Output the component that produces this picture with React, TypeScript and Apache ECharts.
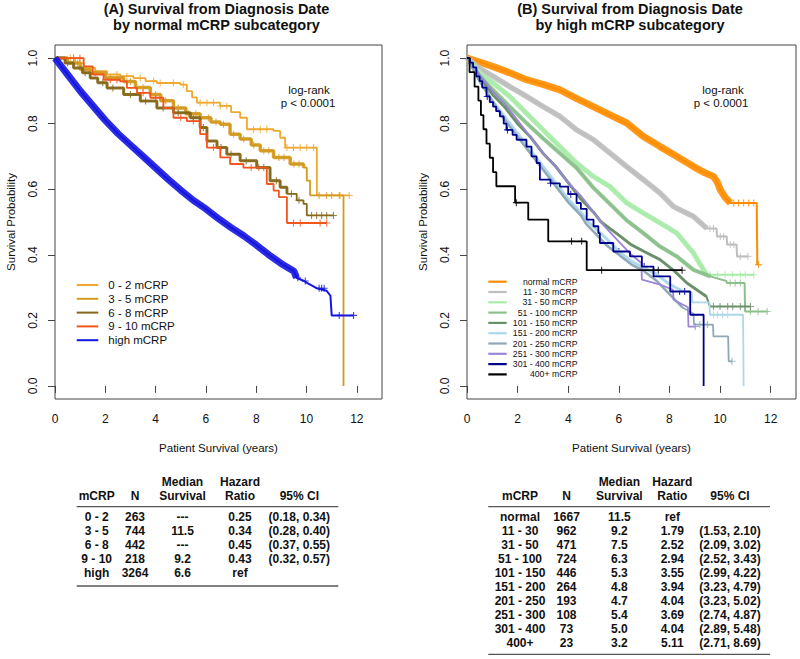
import React, { useEffect, useRef } from "react";
import * as echarts from "echarts";

type Pt = [number, number];
const FONT = "'Liberation Sans', Arial, Helvetica, sans-serif";

// ---------------- Panel A : normal mCRP subcategories ----------------
const aNames = ["0 - 2 mCRP", "3 - 5 mCRP", "6 - 8 mCRP", "9 - 10 mCRP", "high mCRP"];
const aColors = ["#F0A830", "#D39A1F", "#86691C", "#F2561D", "#1515E0"];

const km02: Pt[] = [[0, 1], [0.8, 0.985], [1.14, 0.97], [1.6, 0.96], [2.07, 0.95], [2.6, 0.945], [3.12, 0.939], [3.6, 0.93], [4.05, 0.924], [4.98, 0.919], [5.24, 0.899], [5.45, 0.88], [5.64, 0.864], [6.57, 0.854], [7.0, 0.835], [7.36, 0.818], [7.63, 0.783], [8.69, 0.778], [8.95, 0.757], [9.15, 0.727], [10.41, 0.581], [11.7, 0.581]];
const km35: Pt[] = [[0, 1], [0.5, 0.985], [1.0, 0.965], [1.4, 0.955], [2.0, 0.94], [2.73, 0.929], [3.2, 0.91], [3.79, 0.889], [4.2, 0.87], [4.71, 0.848], [5.2, 0.83], [5.77, 0.818], [6.2, 0.805], [6.57, 0.798], [6.96, 0.768], [7.36, 0.753], [7.8, 0.735], [8.16, 0.717], [8.69, 0.697], [9.35, 0.677], [9.88, 0.666], [10.01, 0.626], [10.14, 0.581], [11.47, 0]];
const km68: Pt[] = [[0, 1], [0.4, 0.985], [0.74, 0.97], [1.1, 0.955], [1.4, 0.939], [1.7, 0.925], [2.07, 0.909], [2.73, 0.889], [3.39, 0.869], [4.05, 0.848], [4.71, 0.833], [5.38, 0.818], [5.77, 0.788], [6.04, 0.747], [6.44, 0.727], [6.83, 0.707], [7.36, 0.687], [8.02, 0.666], [8.55, 0.626], [8.95, 0.606], [9.22, 0.586], [9.61, 0.566], [9.88, 0.555], [10.01, 0.52], [11.07, 0.52]];
const km910: Pt[] = [[0, 1], [1.14, 0.975], [1.5, 0.95], [1.93, 0.934], [2.59, 0.929], [2.86, 0.909], [3.26, 0.894], [3.79, 0.879], [4.31, 0.848], [4.71, 0.818], [5.24, 0.808], [5.77, 0.768], [6.04, 0.727], [6.57, 0.697], [6.96, 0.677], [7.49, 0.666], [8.42, 0.616], [8.69, 0.596], [8.9, 0.576], [9.22, 0.497], [10.8, 0.497]];
const kmHigh: Pt[] = [[0, 1], [0.25, 0.975], [0.5, 0.95], [1, 0.9], [1.5, 0.855], [2, 0.81], [2.5, 0.77], [3, 0.735], [3.5, 0.7], [4, 0.665], [4.5, 0.63], [5, 0.597], [5.5, 0.566], [6, 0.54], [6.5, 0.51], [7, 0.483], [7.5, 0.458], [8, 0.43], [8.5, 0.4], [9, 0.373], [9.5, 0.35], [9.6, 0.33], [9.9, 0.32], [10.0, 0.315], [10.4, 0.298], [10.8, 0.29], [10.95, 0.275], [11.0, 0.215], [11.87, 0.215]];

const cens02 = [0.61, 0.99, 2.46, 2.86, 3.39, 3.92, 4.18, 4.71, 5.1, 5.77, 6.04, 6.3, 6.57, 6.83, 7.89, 8.16, 8.42, 9.22, 9.48, 9.75, 10.01, 10.28, 11.33, 11.7];
const cens35 = [0.9, 1.6, 2.2, 2.5, 3.0, 3.5, 4.0, 4.4, 4.9, 5.3, 5.6, 6.1, 6.4, 6.7, 7.1, 7.5, 7.9, 8.3, 8.5, 8.9, 9.1, 9.5, 9.7, 10.5, 10.8, 11.0, 11.3];
const cens68 = [0.5, 1.2, 1.9, 2.3, 3.0, 3.6, 4.3, 4.9, 5.5, 5.9, 6.6, 7.0, 7.6, 8.3, 8.8, 9.4, 9.7, 10.2, 10.4, 10.6, 10.8, 11.07];
const cens910 = [0.74, 0.99, 2.2, 2.46, 3.5, 4.0, 5.0, 5.5, 6.3, 7.8, 8.1, 9.48, 9.75, 10.54, 10.8];
const censHigh = [9.65, 9.95, 10.5, 10.6, 10.7, 11.3, 11.87];

// ---------------- Panel B : high mCRP subcategories ----------------
const bNames = ["normal mCRP", "11 - 30 mCRP", "31 - 50 mCRP", "51 - 100 mCRP", "101 - 150 mCRP", "151 - 200 mCRP", "201 - 250 mCRP", "251 - 300 mCRP", "301 - 400 mCRP", "400+ mCRP"];
const bColors = ["#FF8C00", "#BEBEBE", "#A9EBA9", "#8CC08C", "#6A906A", "#ADD8EA", "#8FA8B6", "#9A85D8", "#00008F", "#000000"];

const kmNormal: Pt[] = [[0, 1], [0.5, 0.988], [1.03, 0.974], [1.7, 0.955], [2.35, 0.934], [3.0, 0.92], [3.67, 0.903], [4.3, 0.878], [4.99, 0.852], [5.65, 0.827], [6.31, 0.802], [6.97, 0.761], [7.63, 0.73], [8.29, 0.7], [8.95, 0.669], [9.4, 0.65], [9.74, 0.639], [9.9, 0.62], [10.01, 0.598], [10.2, 0.575], [10.41, 0.558], [11.45, 0.558], [11.47, 0.37], [11.52, 0.37]];
const km1130: Pt[] = [[0, 1], [0.5, 0.969], [1.03, 0.944], [1.69, 0.913], [2.35, 0.883], [3.01, 0.852], [3.67, 0.822], [4.33, 0.781], [4.99, 0.751], [5.65, 0.71], [6.31, 0.669], [6.97, 0.629], [7.63, 0.588], [8.16, 0.547], [8.95, 0.517], [9.48, 0.48], [9.86, 0.48], [9.88, 0.456], [10.26, 0.456], [10.28, 0.431], [10.65, 0.431], [10.67, 0.395], [11.1, 0.395]];
const km3150: Pt[] = [[0, 1], [0.5, 0.954], [1.03, 0.924], [1.69, 0.883], [2.35, 0.832], [3.01, 0.781], [3.67, 0.73], [4.33, 0.68], [4.99, 0.639], [5.65, 0.608], [6.31, 0.558], [6.97, 0.527], [7.63, 0.497], [8.29, 0.466], [8.95, 0.405], [9.22, 0.37], [9.48, 0.339], [11.33, 0.339]];
const km51100: Pt[] = [[0, 1], [0.5, 0.944], [1.03, 0.903], [1.69, 0.852], [2.35, 0.802], [3.01, 0.755], [3.67, 0.71], [4.33, 0.665], [4.99, 0.605], [5.65, 0.555], [6.31, 0.505], [6.97, 0.466], [7.63, 0.425], [8.29, 0.395], [8.95, 0.354], [9.61, 0.334], [10.25, 0.32], [10.27, 0.314], [10.97, 0.314], [10.99, 0.227], [11.86, 0.227]];
const km101150: Pt[] = [[0, 1], [0.5, 0.94], [1, 0.89], [1.5, 0.85], [2, 0.8], [2.5, 0.76], [3, 0.71], [3.5, 0.67], [4, 0.62], [4.5, 0.57], [5, 0.53], [5.3, 0.5], [6, 0.46], [6.5, 0.43], [7, 0.41], [7.63, 0.385], [8.2, 0.35], [8.69, 0.314], [9.46, 0.273], [9.6, 0.242], [11.2, 0.242]];
const km151200: Pt[] = [[0, 1], [0.5, 0.93], [1, 0.87], [1.5, 0.82], [2, 0.77], [2.5, 0.72], [3, 0.67], [3.5, 0.62], [4, 0.57], [4.5, 0.53], [4.8, 0.5], [5.5, 0.45], [6, 0.41], [6.5, 0.38], [7, 0.36], [7.5, 0.34], [8, 0.31], [8.5, 0.29], [8.88, 0.285], [8.9, 0.255], [9.58, 0.255], [9.6, 0.217], [10.91, 0.217], [10.93, 0]];
const km201250: Pt[] = [[0, 1], [0.5, 0.93], [1, 0.87], [1.5, 0.81], [2, 0.76], [2.5, 0.71], [3, 0.66], [3.5, 0.61], [4, 0.56], [4.5, 0.52], [4.7, 0.495], [5.5, 0.43], [6, 0.4], [6.5, 0.37], [7, 0.35], [7.5, 0.32], [8, 0.28], [8.5, 0.24], [8.95, 0.22], [8.97, 0.187], [9.72, 0.187], [9.74, 0.151], [10.32, 0.151], [10.34, 0.075], [10.47, 0.075]];
const km251300: Pt[] = [[0, 1], [0.5, 0.95], [1, 0.9], [1.5, 0.86], [2, 0.81], [2.5, 0.76], [3, 0.71], [3.5, 0.67], [4, 0.62], [4.5, 0.58], [5, 0.53], [5.4, 0.49], [6, 0.44], [6.5, 0.4], [6.89, 0.375], [6.91, 0.324], [7.6, 0.31], [8.14, 0.293], [8.16, 0.263], [8.73, 0.24], [8.75, 0.181], [9.02, 0.181]];
const km301400: Pt[] = [[0, 1], [0.12, 0.986], [0.24, 0.972], [0.37, 0.944], [0.5, 0.93], [0.6, 0.91], [0.77, 0.883], [0.9, 0.866], [1.03, 0.852], [1.15, 0.838], [1.3, 0.822], [1.45, 0.8], [1.56, 0.781], [1.8, 0.766], [1.96, 0.751], [2.35, 0.73], [2.55, 0.7], [2.75, 0.68], [2.88, 0.629], [3.3, 0.618], [3.67, 0.608], [4.0, 0.585], [4.33, 0.558], [4.5, 0.54], [4.73, 0.507], [5.0, 0.487], [5.19, 0.466], [5.25, 0.436], [5.78, 0.41], [6.44, 0.395], [6.91, 0.364], [7.37, 0.334], [8.03, 0.288], [8.82, 0.217], [9.35, 0]];
const km400: Pt[] = [[0, 1], [0.1, 0.957], [0.3, 0.913], [0.45, 0.87], [0.55, 0.826], [0.65, 0.783], [0.77, 0.739], [0.9, 0.696], [1.03, 0.652], [1.16, 0.609], [1.9, 0.559], [2.42, 0.507], [3.21, 0.441], [4.73, 0.353], [8.5, 0.353]];

const censNormal = [10.54, 10.73, 10.93, 11.13, 11.33, 11.52];
const cens1130 = [9.6, 9.74, 10.01, 10.14, 10.4, 10.54, 10.8, 11.1];
const cens3150 = [9.61, 9.9, 10.2, 10.5, 10.8, 11.0, 11.33];
const cens51100 = [10.4, 10.6, 10.8, 11.2, 11.5, 11.86];
const cens101150 = [9.74, 10.0, 10.3, 10.5, 10.8, 11.2];
const cens151200 = [9.74, 9.9, 10.1, 10.3];
const cens201250 = [9.2, 9.5, 10.47];
const cens251300 = [9.02];
const cens301400 = [0.8, 1.6, 3.3, 4.1, 6.0, 7.0, 8.4, 8.6];
const cens400 = [1.95, 4.13, 4.53, 5.32, 7.56, 8.5];

// ---------------- Tables ----------------
const aTabGroup = ["0 - 2", "3 - 5", "6 - 8", "9 - 10", "high"];
const aTabN = ["263", "744", "442", "218", "3264"];
const aTabMedian = ["---", "11.5", "---", "9.2", "6.6"];
const aTabHR = ["0.25", "0.34", "0.45", "0.43", "ref"];
const aTabCI = ["(0.18, 0.34)", "(0.28, 0.40)", "(0.37, 0.55)", "(0.32, 0.57)", ""];

const bTabGroup = ["normal", "11 - 30", "31 - 50", "51 - 100", "101 - 150", "151 - 200", "201 - 250", "251 - 300", "301 - 400", "400+"];
const bTabN = ["1667", "962", "471", "724", "446", "264", "193", "108", "73", "23"];
const bTabMedian = ["11.5", "9.2", "7.5", "6.3", "5.3", "4.8", "4.7", "5.4", "5.0", "3.2"];
const bTabHR = ["ref", "1.79", "2.52", "2.94", "3.55", "3.94", "4.04", "3.69", "4.04", "5.11"];
const bTabCI = ["", "(1.53, 2.10)", "(2.09, 3.02)", "(2.52, 3.43)", "(2.99, 4.22)", "(3.23, 4.79)", "(3.23, 5.02)", "(2.74, 4.87)", "(2.89, 5.48)", "(2.71, 8.69)"];

const xTicks = [0, 2, 4, 6, 8, 10, 12];
const yTicks = [0, 0.2, 0.4, 0.6, 0.8, 1.0];

const PLUS = "path://M5,0L5,10M0,5L10,5";

function kmAt(curve: Pt[], t: number): number {
  let s = curve[0][1];
  for (const p of curve) {
    if (p[0] <= t + 1e-9) s = p[1];
    else break;
  }
  return s;
}

interface Spec {
  data: Pt[];
  color: string;
  step: boolean;
  width: number;
  bandEnd?: number;
  bandWidth?: number;
  censor: number[];
}

function buildSeries(specs: Spec[], g: number): any[] {
  const out: any[] = [];
  specs.forEach((s) => {
    out.push({
      type: "line",
      xAxisIndex: g,
      yAxisIndex: g,
      data: s.data,
      step: s.step ? "end" : false,
      symbol: "none",
      lineStyle: { color: s.color, width: s.width },
      silent: true,
    });
    if (s.bandWidth && s.bandEnd !== undefined) {
      out.push({
        type: "line",
        xAxisIndex: g,
        yAxisIndex: g,
        data: s.data.filter((p) => p[0] <= s.bandEnd!),
        step: s.step ? "end" : false,
        symbol: "none",
        lineStyle: { color: s.color, width: s.bandWidth, opacity: 0.9 },
        silent: true,
      });
    }
    if (s.censor.length) {
      out.push({
        type: "scatter",
        xAxisIndex: g,
        yAxisIndex: g,
        data: s.censor.map((t) => [t, kmAt(s.data, t)]),
        symbol: PLUS,
        symbolSize: 7,
        itemStyle: { color: "none", borderColor: s.color, borderWidth: 1.1 },
        silent: true,
      });
    }
  });
  return out;
}

const aSpecs: Spec[] = [
  { data: km02, color: aColors[0], step: true, width: 1.8, censor: cens02 },
  { data: km35, color: aColors[1], step: true, width: 1.8, bandEnd: 10.0, bandWidth: 3.5, censor: cens35 },
  { data: km68, color: aColors[2], step: true, width: 1.8, bandEnd: 9.5, bandWidth: 3, censor: cens68 },
  { data: km910, color: aColors[3], step: true, width: 1.8, censor: cens910 },
  { data: kmHigh, color: aColors[4], step: false, width: 2, bandEnd: 9.6, bandWidth: 7, censor: censHigh },
];

const bSpecs: Spec[] = [
  { data: kmNormal, color: bColors[0], step: false, width: 2, bandEnd: 10.45, bandWidth: 7, censor: censNormal },
  { data: km1130, color: bColors[1], step: false, width: 2, bandEnd: 9.5, bandWidth: 5.5, censor: cens1130 },
  { data: km3150, color: bColors[2], step: false, width: 2, bandEnd: 9.5, bandWidth: 5, censor: cens3150 },
  { data: km51100, color: bColors[3], step: false, width: 2, bandEnd: 9.7, bandWidth: 4, censor: cens51100 },
  { data: km101150, color: bColors[4], step: false, width: 2, bandEnd: 9.5, bandWidth: 3, censor: cens101150 },
  { data: km151200, color: bColors[5], step: false, width: 1.8, bandEnd: 8.5, bandWidth: 3, censor: cens151200 },
  { data: km201250, color: bColors[6], step: false, width: 1.8, bandEnd: 8.5, bandWidth: 2.5, censor: cens201250 },
  { data: km251300, color: bColors[7], step: false, width: 1.8, censor: cens251300 },
  { data: km301400, color: bColors[8], step: true, width: 1.8, censor: cens301400 },
  { data: km400, color: bColors[9], step: true, width: 1.8, censor: cens400 },
];

function axesFor(g: number) {
  const x = {
    type: "value",
    gridIndex: g,
    min: 0,
    max: 13,
    axisLine: { show: false },
    splitLine: { show: false },
    axisTick: { show: true, length: 7, customValues: xTicks, lineStyle: { color: "#444", width: 1 } },
    axisLabel: { customValues: xTicks, fontSize: 12, color: "#111", fontFamily: FONT, margin: 14 },
    name: "Patient Survival (years)",
    nameLocation: "middle",
    nameGap: 43,
    nameTextStyle: { fontSize: 11.5, color: "#111", fontFamily: FONT },
  };
  const y = {
    type: "value",
    gridIndex: g,
    min: -0.04,
    max: 1.04,
    axisLine: { show: false },
    splitLine: { show: false },
    axisTick: { show: true, length: 7, customValues: yTicks, lineStyle: { color: "#444", width: 1 } },
    axisLabel: {
      customValues: yTicks,
      rotate: 90,
      fontSize: 12,
      color: "#111",
      fontFamily: FONT,
      margin: 16,
      formatter: (v: number) => v.toFixed(1),
    },
    name: "Survival Probability",
    nameLocation: "middle",
    nameGap: 38,
    nameTextStyle: { fontSize: 11.5, color: "#111", fontFamily: FONT },
  };
  return { x, y };
}

function txt(text: string, x: number, y: number, size: number, align: string, bold = false, color = "#111") {
  return {
    type: "text",
    x,
    y,
    silent: true,
    style: {
      text,
      fill: color,
      font: `${bold ? "bold " : ""}${size}px ${FONT}`,
      textAlign: align,
      textVerticalAlign: "middle",
      verticalAlign: "middle",
    },
  };
}

function hline(x1: number, x2: number, y: number, color = "#555", w = 1.3) {
  return { type: "line", silent: true, shape: { x1, y1: y, x2, y2: y }, style: { stroke: color, lineWidth: w } };
}

function buildGraphics(): any[] {
  const g: any[] = [];
  // titles
  g.push(txt("(A) Survival from Diagnosis Date", 216.5, 8.5, 14.5, "center", true));
  g.push(txt("by normal mCRP subcategory", 216.5, 25, 14.5, "center", true));
  g.push(txt("(B) Survival from Diagnosis Date", 630, 8.5, 14.5, "center", true));
  g.push(txt("by high mCRP subcategory", 630, 25, 14.5, "center", true));
  // log-rank notes
  g.push(txt("log-rank", 309, 90, 11.5, "center"));
  g.push(txt("p < 0.0001", 308, 103, 11.5, "center"));
  g.push(txt("log-rank", 723, 90, 11.5, "center"));
  g.push(txt("p < 0.0001", 721, 103, 11.5, "center"));
  // legend A
  aNames.forEach((n, i) => {
    const y = 285 + 13.8 * i;
    g.push({ type: "line", silent: true, shape: { x1: 76.7, y1: y, x2: 98.3, y2: y }, style: { stroke: aColors[i], lineWidth: 2 } });
    g.push(txt(n, 108.3, y, 11.5, "left"));
  });
  // legend B
  bNames.forEach((n, i) => {
    const y = 281.7 + 10.3 * i;
    g.push({ type: "line", silent: true, shape: { x1: 488.3, y1: y, x2: 506.7, y2: y }, style: { stroke: bColors[i], lineWidth: 2.2 } });
    g.push(txt(n, 577.5, y, 8.7, "right"));
  });
  // table A
  const aCols = [96.7, 135, 182.5, 240, 299.3];
  g.push(txt("Median", aCols[2], 482, 12, "center", true));
  g.push(txt("Hazard", aCols[3], 482, 12, "center", true));
  ["mCRP", "N", "Survival", "Ratio", "95% CI"].forEach((h, i) => g.push(txt(h, aCols[i], 496, 12, "center", true)));
  g.push(hline(76.7, 338.3, 506.7));
  aTabGroup.forEach((_, r) => {
    const y = 517.3 + 14 * r;
    [aTabGroup[r], aTabN[r], aTabMedian[r], aTabHR[r], aTabCI[r]].forEach((v, c) => {
      if (v) g.push(txt(v, aCols[c], y, 12, "center", true));
    });
  });
  g.push(hline(76.7, 338.3, 586));
  // table B
  const bCols = [520, 566.5, 619.3, 672.3, 730];
  g.push(txt("Median", bCols[2], 482, 12, "center", true));
  g.push(txt("Hazard", bCols[3], 482, 12, "center", true));
  ["mCRP", "N", "Survival", "Ratio", "95% CI"].forEach((h, i) => g.push(txt(h, bCols[i], 496, 12, "center", true)));
  g.push(hline(488.3, 770, 506.7));
  bTabGroup.forEach((_, r) => {
    const y = 516.7 + 14.07 * r;
    [bTabGroup[r], bTabN[r], bTabMedian[r], bTabHR[r], bTabCI[r]].forEach((v, c) => {
      if (v) g.push(txt(v, bCols[c], y, 12, "center", true));
    });
  });
  g.push(hline(488.3, 770, 654.3));
  return g;
}

export default function App() {
  const ref = useRef<HTMLDivElement>(null);
  useEffect(() => {
    if (!ref.current) return;
    const chart = echarts.init(ref.current, undefined, { renderer: "svg" });
    const a = axesFor(0);
    const b = axesFor(1);
    chart.setOption({
      animation: false,
      backgroundColor: "#ffffff",
      textStyle: { fontFamily: FONT },
      grid: [
        { left: 55, top: 45, width: 327, height: 354, show: true, borderColor: "#444", borderWidth: 1, backgroundColor: "transparent" },
        { left: 467, top: 45, width: 329, height: 354, show: true, borderColor: "#444", borderWidth: 1, backgroundColor: "transparent" },
      ],
      xAxis: [a.x, b.x],
      yAxis: [a.y, b.y],
      series: [...buildSeries(aSpecs, 0), ...buildSeries(bSpecs, 1)],
      graphic: buildGraphics(),
    });
    return () => chart.dispose();
  }, []);
  return <div ref={ref} style={{ position: "fixed", left: 0, top: 0, width: 800, height: 659, background: "#fff" }} />;
}
